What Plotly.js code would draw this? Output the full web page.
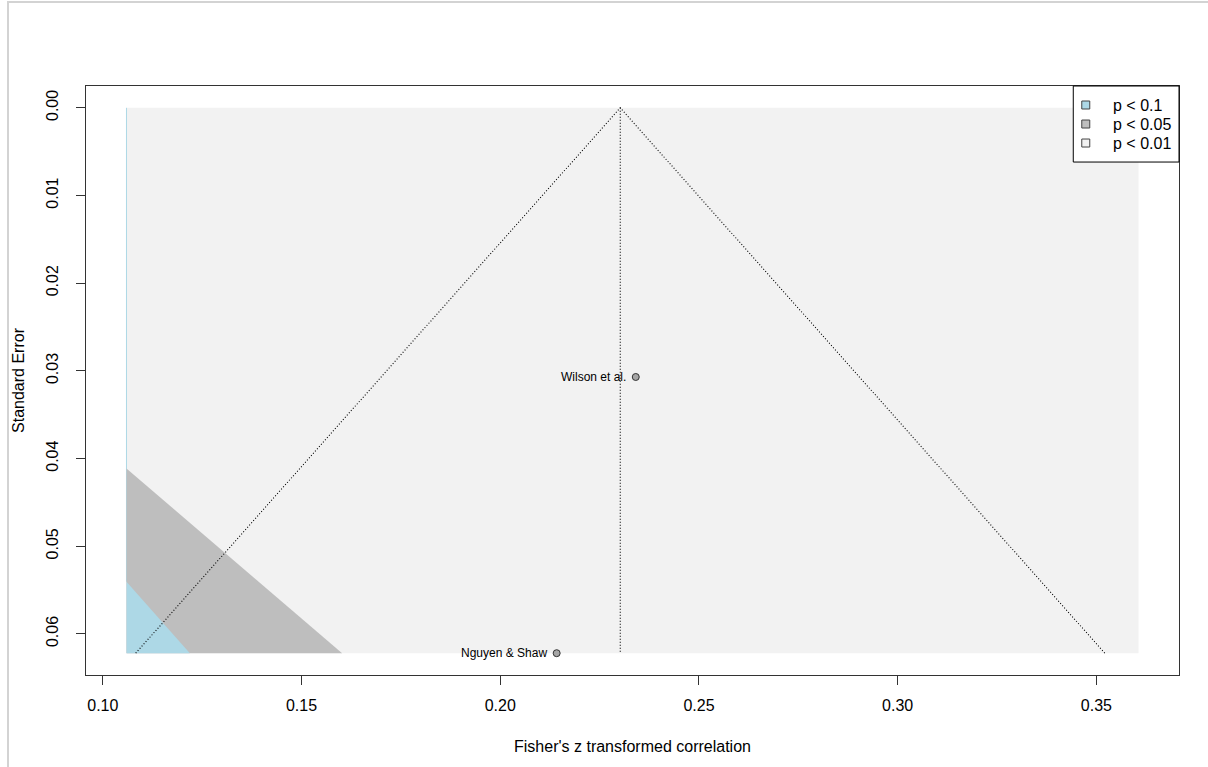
<!DOCTYPE html>
<html>
<head>
<meta charset="utf-8">
<script src="https://cdn.plot.ly/plotly-3.0.1.min.js"></script>
<style>
  html, body { margin: 0; padding: 0; background: #ffffff; }
  #wrap { position: relative; width: 1208px; height: 767px; overflow: hidden; }
  #chart { width: 1208px; height: 767px; }
  #frame { position: absolute; left: 7px; top: 1px; width: 1210px; height: 780px;
           border-top: 2px solid #d3d3d3; border-left: 2px solid #d3d3d3; pointer-events: none; }
</style>
</head>
<body>
<div id="wrap">
  <div id="chart"></div>
  <div id="frame"></div>
</div>
<script>
// ---- data ----
const studies = ["Wilson et al.", "Nguyen & Shaw"];
const yi = [0.2341, 0.2142];          // Fisher's z
const sei = [0.0307, 0.0622];         // standard errors
const estimate = 0.2302;              // pooled estimate (refline of funnel)
const contourZ = [1.6449, 1.96, 2.5758];          // 90%, 95%, 99%
const legendLabels = ["p < 0.1", "p < 0.05", "p < 0.01"];
const shadeColors = ["#ADD8E6", "#BEBEBE", "#F2F2F2"];
const xTicks = [0.10, 0.15, 0.20, 0.25, 0.30, 0.35];
const yTicks = [0.00, 0.01, 0.02, 0.03, 0.04, 0.05, 0.06];
const xlimShade = [0.10596, 0.3606];

// ---- derived ----
const seMax = Math.max(...sei);
const xExt = 0.04 * (xlimShade[1] - xlimShade[0]);
const yExt = 0.04 * seMax;
const xRange = [xlimShade[0] - xExt, xlimShade[1] + xExt];
const yRange = [seMax + yExt, -yExt];

// clip polygon to xlo <= x <= xhi (Sutherland-Hodgman)
function clipX(poly, bound, keepGreater) {
  const out = [];
  for (let i = 0; i < poly.length; i++) {
    const a = poly[i], b = poly[(i + 1) % poly.length];
    const ina = keepGreater ? a[0] >= bound : a[0] <= bound;
    const inb = keepGreater ? b[0] >= bound : b[0] <= bound;
    if (ina) out.push(a);
    if (ina !== inb) {
      const t = (bound - a[0]) / (b[0] - a[0]);
      out.push([bound, a[1] + t * (b[1] - a[1])]);
    }
  }
  return out;
}
function contourPoly(z) {
  let p = [[0, 0], [z * seMax, seMax], [-z * seMax, seMax]];
  p = clipX(p, xlimShade[0], true);
  p = clipX(p, xlimShade[1], false);
  return p;
}

const traces = [];
// background (outermost region p < 0.01)
traces.push({
  x: [xlimShade[0], xlimShade[1], xlimShade[1], xlimShade[0]],
  y: [0, 0, seMax, seMax], fill: "toself", fillcolor: shadeColors[2],
  mode: "lines", line: { width: 0 }, hoverinfo: "skip", showlegend: false
});
// thin blue edge along left side
traces.push({
  x: [xlimShade[0], xlimShade[0]], y: [0, xlimShade[0] / contourZ[1]],
  mode: "lines", line: { color: shadeColors[0], width: 1 }, hoverinfo: "skip", showlegend: false
});
// 99% contour region (gray) then 95% (blue) then 90% (white)
[[contourZ[2], shadeColors[1]], [contourZ[1], shadeColors[0]], [contourZ[0], "#FFFFFF"]].forEach(([z, c]) => {
  const p = contourPoly(z);
  if (p.length < 3) return;
  traces.push({
    x: p.map(v => v[0]), y: p.map(v => v[1]), fill: "toself", fillcolor: c,
    mode: "lines", line: { width: 0 }, hoverinfo: "skip", showlegend: false
  });
});
// funnel lines
const dotLine = { color: "#000000", width: 1.1, dash: "1px,2px" };
traces.push({
  x: [estimate - contourZ[1] * seMax, estimate, estimate + contourZ[1] * seMax],
  y: [seMax, 0, seMax], mode: "lines", line: dotLine, hoverinfo: "skip", showlegend: false
});
traces.push({
  x: [estimate, estimate], y: [0, seMax], mode: "lines", line: dotLine, hoverinfo: "skip", showlegend: false
});
// studies
traces.push({
  x: yi, y: sei, mode: "markers",
  marker: { size: 7, color: "#A6A6A6", line: { color: "#333333", width: 1 } },
  showlegend: false, hoverinfo: "x+y"
});

// ---- layout helpers (pixel -> paper) ----
const L = 86, R = 1178.7, T = 86, B = 674.7;
const px = v => (v - L) / (R - L);
const py = v => 1 - (v - T) / (B - T);

const shapes = [];
const annotations = [];
// study labels
studies.forEach((s, i) => {
  annotations.push({ xref: "x", yref: "y", x: yi[i], y: sei[i], text: s, showarrow: false,
    xanchor: "right", yanchor: "middle", xshift: -8,
    font: { family: "Liberation Sans, Arial, sans-serif", size: 12, color: "#000000" } });
});
// legend box
shapes.push({ type: "rect", xref: "paper", yref: "paper", x0: px(1073), x1: px(1178.7), y0: py(162), y1: py(86),
  line: { color: "#000000", width: 1 }, fillcolor: "#FFFFFF", layer: "above" });
const rowY = [105, 124, 143];
legendLabels.forEach((lab, i) => {
  shapes.push({ type: "rect", xref: "paper", yref: "paper",
    x0: px(1081.5), x1: px(1089.5), y0: py(rowY[i] + 4), y1: py(rowY[i] - 4),
    line: { color: "#444444", width: 1 }, fillcolor: shadeColors[i], layer: "above" });
  annotations.push({ xref: "paper", yref: "paper", x: px(1111), y: py(rowY[i]), text: lab,
    showarrow: false, xanchor: "left", yanchor: "middle",
    font: { family: "Liberation Sans, Arial, sans-serif", size: 16, color: "#000000" } });
});

const font = { family: "Liberation Sans, Arial, sans-serif", size: 16, color: "#000000" };
const layout = {
  width: 1208, height: 767,
  margin: { l: 86, r: 29.3, t: 86, b: 92.3, pad: 0 },
  paper_bgcolor: "#FFFFFF", plot_bgcolor: "#FFFFFF",
  font: font,
  showlegend: false,
  xaxis: {
    range: xRange, tickvals: xTicks, ticktext: xTicks.map(v => v.toFixed(2)),
    showgrid: false, zeroline: false, showline: true, mirror: true, linecolor: "#333333", linewidth: 1,
    ticks: "outside", ticklen: 9, tickcolor: "#333333", ticklabelstandoff: 7,
    tickfont: font,
    title: { text: "Fisher's z transformed correlation", font: font, standoff: 27 }
  },
  yaxis: {
    range: yRange, tickvals: yTicks, ticktext: yTicks.map(v => v.toFixed(2)),
    showgrid: false, zeroline: false, showline: true, mirror: true, linecolor: "#333333", linewidth: 1,
    ticks: "outside", ticklen: 9, tickcolor: "#333333", tickangle: -90, ticklabelstandoff: 12,
    tickfont: font,
    title: { text: "Standard Error", font: font, standoff: 14 }
  },
  shapes: shapes,
  annotations: annotations
};

Plotly.newPlot("chart", traces, layout, { displayModeBar: false, staticPlot: true });
</script>
</body>
</html>
